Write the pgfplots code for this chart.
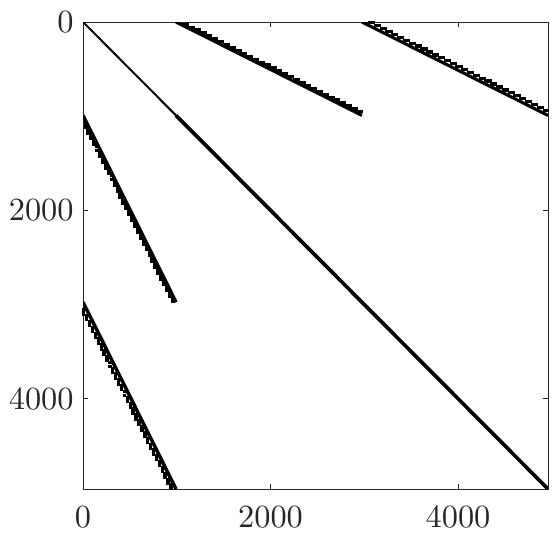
\documentclass[border=0pt]{standalone}
\usepackage{pgfplots}
\usepackage{pgfplotstable}
\pgfplotsset{compat=1.18}
\definecolor{axc}{HTML}{262626}

% near1/near2 = row (or column) in 0..992, far1/far2 = position in the two off-diagonal blocks
\pgfplotstableread{
near1 near2 far1 far2
24 8 1095 3079
55 39 1157 3141
86 70 1219 3203
117 101 1281 3265
180 164 1405 3389
210 194 1467 3451
241 225 1529 3513
272 256 1591 3575
334 318 1715 3699
365 349 1777 3761
396 380 1839 3823
428 412 1901 3885
489 473 2025 4009
520 504 2087 4071
551 535 2149 4133
582 566 2211 4195
644 628 2335 4319
676 660 2397 4381
706 690 2459 4443
737 721 2521 4505
768 752 2583 4567
830 814 2707 4691
861 845 2769 4753
892 876 2831 4815
924 908 2893 4877
}\dashpts

\pgfplotstableread{
near1 near2 far1 far2
148 132 1323 3307
148 132 1363 3347
303 287 1633 3617
303 287 1673 3657
458 442 1943 3927
458 442 1983 3967
613 597 2253 4237
613 597 2293 4277
799 783 2625 4609
799 783 2665 4649
954 938 2935 4919
954 938 2966 4950
}\dotpts

\pgfplotsset{
  hdash/.style={only marks,mark=square*,mark size=0.3pt,mark options={xscale=3,draw=none,fill=black}},
  vdash/.style={only marks,mark=square*,mark size=0.3pt,mark options={yscale=3,draw=none,fill=black}},
  spot/.style={only marks,mark=square*,mark size=0.3pt,mark options={draw=none,fill=black}},
}

\begin{document}
\begin{tikzpicture}
\begin{axis}[
    name=ax,
    scale only axis,
    width=139.5pt,
    height=140.1pt,
    xmin=0, xmax=4960,
    ymin=0, ymax=4960,
    y dir=reverse,
    xtick={0,2000,4000},
    ytick={0,2000,4000},
    scaled ticks=false,
    xticklabel style={/pgf/number format/1000 sep={}},
    yticklabel style={/pgf/number format/1000 sep={}},
    tick align=inside,
    major tick length=1.4pt,
    axis line style={axc,line width=0.3pt},
    major tick style={draw=axc,line width=0.3pt},
    tick label style={text=axc,font=\normalsize,scale=0.97},
    xticklabel shift=1.9pt,
    yticklabel shift=-0.6pt,
]
% main diagonal
\addplot[black,line width=0.6pt] coordinates {(0,0) (992,992)};
\addplot[black,line width=1.1pt] coordinates {(992,992) (4960,4960)};
% off-diagonal blocks
\addplot[black,line width=0.95pt] coordinates {(992,0) (2976,992)};
\addplot[black,line width=0.95pt] coordinates {(2976,0) (4960,992)};
\addplot[black,line width=1.05pt] coordinates {(0,992) (992,2976)};
\addplot[black,line width=1.05pt] coordinates {(0,2976) (992,4960)};
% staggered entries next to the blocks
\addplot[hdash] table[x=far1,y=near1] {\dashpts};
\addplot[hdash] table[x=far2,y=near2] {\dashpts};
\addplot[vdash] table[x=near1,y=far1] {\dashpts};
\addplot[vdash] table[x=near2,y=far2] {\dashpts};
\addplot[spot] table[x=far1,y=near1] {\dotpts};
\addplot[spot] table[x=far2,y=near2] {\dotpts};
\addplot[spot] table[x=near1,y=far1] {\dotpts};
\addplot[spot] table[x=near2,y=far2] {\dotpts};
\end{axis}
\pgfresetboundingbox
\path[use as bounding box] (-24.9pt,-14.1pt) rectangle (142.8pt,146.7pt);
\end{tikzpicture}
\end{document}
